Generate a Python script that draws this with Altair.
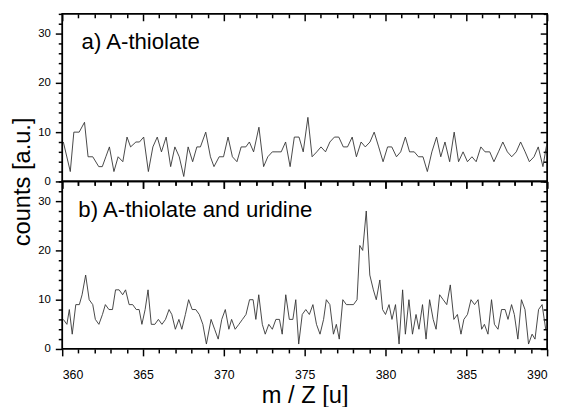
import altair as alt
import pandas as pd

# ---- data ----
a_mz = [360.07, 360.5, 360.72, 361.05, 361.38, 361.6, 361.89, 362.26, 362.48, 362.7,
        362.92, 363.2, 363.46, 363.75, 364.01, 364.23, 364.56, 364.78, 365.04, 365.33,
        365.61, 365.88, 366.14, 366.43, 366.71, 366.97, 367.24, 367.52, 367.79, 368.07,
        368.33, 368.55, 368.88, 369.17, 369.39, 369.71, 369.98, 370.26, 370.53, 370.81,
        371.07, 371.36, 371.58, 371.84, 372.17, 372.46, 372.72, 373.0, 373.29, 373.55,
        373.82, 374.1, 374.36, 374.65, 374.91, 375.2, 375.46, 375.75, 376.01, 376.29,
        376.56, 376.84, 377.11, 377.39, 377.65, 377.94, 378.2, 378.49, 378.75, 379.04,
        379.3, 379.58, 379.85, 380.13, 380.39, 380.68, 380.94, 381.23, 381.49, 381.78,
        382.04, 382.32, 382.59, 382.87, 383.16, 383.42, 383.68, 383.97, 384.25, 384.52,
        384.8, 385.07, 385.35, 385.61, 385.9, 386.16, 386.45, 386.71, 386.99, 387.26,
        387.54, 387.81, 388.09, 388.36, 388.64, 388.9, 389.19, 389.45, 389.74, 390.0]
a_counts = [8, 2, 10, 10, 12, 5, 5, 3, 3, 5,
            7, 2, 5, 4, 9, 7, 8, 8, 9, 2,
            7, 9, 6, 9, 3, 7, 5, 1, 7, 4,
            7, 7, 10, 5, 3, 5, 5, 9, 5, 4,
            7, 7, 8, 6, 11, 3, 5, 6, 6, 6,
            8, 3, 9, 9, 6, 13, 5, 6, 7, 6,
            8, 9, 9, 7, 7, 9, 5, 8, 7, 8,
            10, 7, 4, 7, 7, 5, 6, 9, 6, 6,
            5, 5, 2, 6, 9, 5, 8, 4, 10, 4,
            6, 4, 5, 4, 7, 6, 6, 4, 6, 8,
            6, 5, 6, 8, 6, 4, 5, 7, 3, 8]

b_mz = [360.07, 360.29, 360.44, 360.62, 360.84, 361.06, 361.23, 361.45, 361.67, 361.89,
        362.05, 362.27, 362.49, 362.67, 362.89, 363.11, 363.3, 363.52, 363.74, 363.92,
        364.14, 364.36, 364.58, 364.76, 364.93, 365.13, 365.31, 365.51, 365.73, 365.95,
        366.17, 366.39, 366.61, 366.78, 367.0, 367.22, 367.4, 367.62, 367.82, 368.04,
        368.26, 368.48, 368.7, 368.92, 369.21, 369.43, 369.65, 369.87, 370.09, 370.31,
        370.48, 370.7, 370.93, 371.15, 371.37, 371.59, 371.81, 371.98, 372.16, 372.38,
        372.56, 372.78, 373.0, 373.22, 373.44, 373.61, 373.83, 374.05, 374.27, 374.45,
        374.63, 374.85, 375.07, 375.29, 375.51, 375.73, 375.95, 376.17, 376.34, 376.56,
        376.78, 376.96, 377.14, 377.36, 377.58, 377.8, 378.02, 378.24, 378.41, 378.59,
        378.81, 379.03, 379.25, 379.43, 379.65, 379.82, 380.0, 380.22, 380.4, 380.62,
        380.84, 381.06, 381.23, 381.45, 381.67, 381.89, 382.07, 382.29, 382.51, 382.73,
        382.95, 383.13, 383.35, 383.57, 383.79, 384.01, 384.23, 384.45, 384.67, 384.85,
        385.07, 385.29, 385.51, 385.73, 385.95, 386.12, 386.34, 386.56, 386.74, 386.96,
        387.18, 387.4, 387.58, 387.8, 387.97, 388.19, 388.41, 388.63, 388.85, 389.07,
        389.25, 389.47, 389.69, 389.91]
b_counts = [6, 5, 8, 3, 9, 9, 11, 15, 10, 9,
            6, 5, 7, 9, 8, 8, 12, 12, 11, 12,
            9, 9, 8, 8, 5, 8, 12, 5, 5, 6,
            5, 6, 8, 7, 4, 6, 4, 7, 10, 8,
            8, 7, 5, 1, 6, 4, 2, 6, 8, 4,
            6, 4, 5, 6, 7, 10, 10, 6, 11, 5,
            3, 5, 4, 6, 6, 3, 11, 6, 6, 10,
            1, 7, 8, 7, 9, 5, 3, 6, 10, 9,
            3, 5, 2, 10, 9, 9, 9, 10, 21, 20,
            28, 15, 12, 10, 14, 8, 7, 9, 6, 9,
            1, 12, 3, 10, 3, 7, 4, 9, 2, 10,
            6, 4, 11, 10, 9, 13, 6, 7, 3, 6,
            7, 10, 9, 10, 4, 5, 3, 10, 5, 4,
            8, 8, 6, 9, 7, 2, 10, 8, 1, 3,
            2, 8, 9, 4]

panel_labels = ["a) A-thiolate", "b) A-thiolate and uridine"]
label_x = [361.2, 361.0]
label_y = [26.8, 26.8]

x_ticks = list(range(360, 391))
y_ticks = list(range(0, 35, 2))
x_domain = [360, 390]
y_domain = [0, 34]

W, H = 492, 170
FONT = "Liberation Sans"

xs = alt.Scale(domain=x_domain, nice=False, zero=False)
ys = alt.Scale(domain=y_domain, nice=False)

tick_x = {"condition": {"test": "datum.value % 5 === 0", "value": 7}, "value": 4}
tick_y = {"condition": {"test": "datum.value % 10 === 0", "value": 7}, "value": 4}
TW = 1.5


def panel(mz, counts, idx, bottom):
    df = pd.DataFrame({"mz": mz, "counts": counts})
    base = alt.Chart(df)

    if bottom:
        x_axis = alt.Axis(orient="bottom", values=x_ticks, tickSize=tick_x, tickColor="black",
                          tickWidth=TW, domain=False, grid=False,
                          labelExpr="datum.value % 5 === 0 ? datum.label : ''",
                          labelFont=FONT, labelFontSize=12.5, labelColor="black", labelPadding=13,
                          title="m / Z [u]", titleFont=FONT, titleFontSize=24,
                          titleFontWeight="normal", titleColor="black", titlePadding=3)
    else:
        x_axis = alt.Axis(orient="bottom", values=x_ticks, tickSize=tick_x, tickColor="black",
                          tickWidth=TW, domain=False, grid=False, labels=False, title=None)

    y_kwargs = dict(orient="left", values=y_ticks, tickSize=tick_y, tickColor="black",
                    tickWidth=TW, domain=False, grid=False,
                    labelExpr="datum.value % 10 === 0 ? datum.label : ''",
                    labelFont=FONT, labelFontSize=11.5, labelColor="black", labelPadding=5)
    if not bottom:
        y_axis = alt.Axis(title="counts [a.u.]", titleFont=FONT, titleFontSize=24,
                          titleFontWeight="normal", titleColor="black", titleX=-40, titleY=H,
                          titleAngle=-90, titleAlign="center", titleBaseline="middle", **y_kwargs)
    else:
        y_axis = alt.Axis(title=None, **y_kwargs)

    line = base.mark_line(color="#333333", strokeWidth=0.9, clip=True).encode(
        x=alt.X("mz:Q", scale=xs, axis=x_axis),
        y=alt.Y("counts:Q", scale=ys, axis=y_axis),
    )

    inner = base.mark_point(opacity=0).encode(
        x=alt.X("mz:Q", scale=xs,
                axis=alt.Axis(orient="bottom", offset=-H, values=x_ticks, tickSize=tick_x,
                              tickColor="black", tickWidth=TW, labels=False, domain=False,
                              grid=False, title=None)),
        y=alt.Y("counts:Q", scale=ys,
                axis=alt.Axis(orient="left", offset=-W, values=y_ticks, tickSize=tick_y,
                              tickColor="black", tickWidth=TW, labels=False, domain=False,
                              grid=False, title=None)),
    )

    ldf = pd.DataFrame({"x": [label_x[idx]], "y": [label_y[idx]], "t": [panel_labels[idx]]})
    text = alt.Chart(ldf).mark_text(align="left", baseline="alphabetic", font=FONT,
                                    fontSize=22.5, color="black").encode(
        x=alt.X("x:Q", scale=xs, axis=None),
        y=alt.Y("y:Q", scale=ys, axis=None),
        text="t:N",
    )

    return alt.layer(line, inner, text).resolve_axis(x="independent", y="independent").properties(
        width=W, height=H)


top = panel(a_mz, a_counts, 0, False)
bot = panel(b_mz, b_counts, 1, True)

chart = alt.vconcat(top, bot, spacing=0, bounds="flush").properties(
    padding={"left": 2, "top": 1, "right": 5, "bottom": 0},
    background="white",
).configure_view(stroke="black", strokeWidth=1.8).configure_concat(spacing=0)

chart.save("out.html", embed_options={"renderer": "svg", "actions": False})
